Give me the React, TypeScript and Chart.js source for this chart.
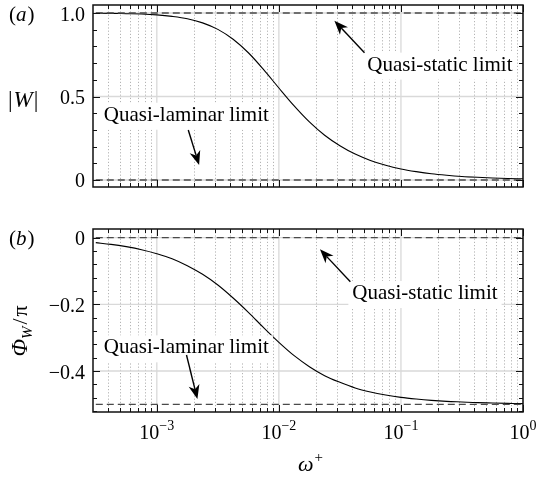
import React, { useEffect, useRef } from "react";
import { Chart, registerables } from "chart.js";

Chart.register(...registerables);

// ---- data ----
const omega = [
  3.162e-4, 4.217e-4, 5.623e-4, 7.499e-4, 1.0e-3, 1.334e-3, 1.778e-3, 2.371e-3,
  3.162e-3, 4.217e-3, 5.623e-3, 7.499e-3, 1.0e-2, 1.334e-2, 1.778e-2, 2.371e-2,
  3.162e-2, 4.217e-2, 5.623e-2, 7.499e-2, 0.1, 0.1334, 0.1778, 0.2371, 0.3162,
  0.4217, 0.5623, 0.7499, 1.0,
];
const magnitudeW = [
  0.999, 0.998, 0.996, 0.994, 0.989, 0.98, 0.966, 0.941, 0.902, 0.843, 0.762,
  0.661, 0.551, 0.444, 0.348, 0.268, 0.205, 0.155, 0.117, 0.088, 0.066, 0.05,
  0.037, 0.028, 0.021, 0.016, 0.012, 0.009, 0.007,
];
const phaseW = [
  -0.015, -0.02, -0.027, -0.036, -0.048, -0.063, -0.084, -0.11, -0.142, -0.181,
  -0.224, -0.27, -0.314, -0.354, -0.387, -0.414, -0.434, -0.451, -0.463, -0.472,
  -0.479, -0.484, -0.488, -0.491, -0.493, -0.495, -0.496, -0.497, -0.498,
];

const xRange = [3.162e-4, 1];
const xDecades = [1e-3, 1e-2, 1e-1, 1];
const xDecadeExp = ["\u22123", "\u22122", "\u22121", "0"];

const topYRange = [-0.042, 1.048];
const topYTicks = [0, 0.5, 1.0];
const topYLabels = ["0", "0.5", "1.0"];
const topYMinorStep = 0.1;
const topLimits = [1, 0];

const botYRange = [-0.523, 0.026];
const botYTicks = [0, -0.2, -0.4];
const botYLabels = ["0", "\u22120.2", "\u22120.4"];
const botYMinorStep = 0.04;
const botLimits = [0, -0.5];

type Note = { text: string; at: [number, number]; tail: [number, number]; tip: [number, number] };
const topNotes: Note[] = [
  { text: "Quasi-static limit", at: [0.053, 0.655], tail: [0.0503, 0.762], tip: [0.0285, 0.954] },
  { text: "Quasi-laminar limit", at: [3.68e-4, 0.355], tail: [1.81e-3, 0.299], tip: [2.22e-3, 0.09] },
];
const botNotes: Note[] = [
  { text: "Quasi-static limit", at: [0.04, -0.184], tail: [0.0385, -0.132], tip: [0.0217, -0.035] },
  { text: "Quasi-laminar limit", at: [3.68e-4, -0.347], tail: [1.75e-3, -0.352], tip: [2.15e-3, -0.484] },
];

const FONT = '"Liberation Serif", "DejaVu Serif", serif';
const W = 538;

type Spec = {
  values: number[];
  yRange: number[];
  yTicks: number[];
  yLabels: string[];
  yMinorStep: number;
  limits: number[];
  notes: Note[];
  tag: string;
  kind: "mag" | "phase";
  height: number;
  padding: { left: number; right: number; top: number; bottom: number };
};

function minorXValues(): number[] {
  const out: number[] = [];
  for (let e = -4; e <= -1; e++) {
    for (let m = 2; m <= 9; m++) {
      const v = m * Math.pow(10, e);
      if (v >= xRange[0] && v <= xRange[1]) out.push(v);
    }
  }
  return out;
}

function minorYValues(range: number[], step: number): number[] {
  const out: number[] = [];
  const start = Math.ceil(range[0] / step - 1e-9);
  const end = Math.floor(range[1] / step + 1e-9);
  for (let k = start; k <= end; k++) out.push(+(k * step).toFixed(6));
  return out;
}

function drawArrow(ctx: CanvasRenderingContext2D, x0: number, y0: number, x1: number, y1: number) {
  const dx = x1 - x0, dy = y1 - y0;
  const len = Math.hypot(dx, dy);
  const ux = dx / len, uy = dy / len;
  const px = -uy, py = ux;
  const L = 14, HW = 5.5, N = 4;
  const bx = x1 - ux * L, by = y1 - uy * L;
  const nx = x1 - ux * (L - N), ny = y1 - uy * (L - N);
  ctx.strokeStyle = "#000";
  ctx.fillStyle = "#000";
  ctx.lineWidth = 1.4;
  ctx.setLineDash([]);
  ctx.beginPath();
  ctx.moveTo(x0, y0);
  ctx.lineTo(nx, ny);
  ctx.stroke();
  ctx.beginPath();
  ctx.moveTo(x1, y1);
  ctx.lineTo(bx + px * HW, by + py * HW);
  ctx.lineTo(nx, ny);
  ctx.lineTo(bx - px * HW, by - py * HW);
  ctx.closePath();
  ctx.fill();
}

function makePlugin(spec: Spec) {
  const minorX = minorXValues();
  const minorY = minorYValues(spec.yRange, spec.yMinorStep);
  return {
    id: "panelDecor",
    beforeDatasetsDraw(chart: any) {
      const { ctx, chartArea: a, scales } = chart;
      const x = scales.x, y = scales.y;
      ctx.save();
      // minor dotted verticals
      ctx.strokeStyle = "#b4b4b4";
      ctx.lineWidth = 1;
      ctx.setLineDash([1.2, 2]);
      for (const v of minorX) {
        const px = Math.round(x.getPixelForValue(v)) + 0.5;
        ctx.beginPath();
        ctx.moveTo(px, a.top);
        ctx.lineTo(px, a.bottom);
        ctx.stroke();
      }
      ctx.setLineDash([]);
      ctx.strokeStyle = "#d9d9d9";
      ctx.lineWidth = 1.3;
      for (const v of xDecades) {
        const px = x.getPixelForValue(v);
        ctx.beginPath();
        ctx.moveTo(px, a.top);
        ctx.lineTo(px, a.bottom);
        ctx.stroke();
      }
      for (const v of spec.yTicks) {
        const py = y.getPixelForValue(v);
        ctx.beginPath();
        ctx.moveTo(a.left, py);
        ctx.lineTo(a.right, py);
        ctx.stroke();
      }
      ctx.restore();
    },
    afterDatasetsDraw(chart: any) {
      const { ctx, chartArea: a, scales } = chart;
      const x = scales.x, y = scales.y;
      ctx.save();
      // annotations
      ctx.font = `21px ${FONT}`;
      ctx.textBaseline = "alphabetic";
      ctx.textAlign = "left";
      for (const n of spec.notes) {
        const tx = x.getPixelForValue(n.at[0]);
        const ty = y.getPixelForValue(n.at[1]);
        const w = ctx.measureText(n.text).width;
        ctx.fillStyle = "#fff";
        ctx.fillRect(tx - 4, ty - 18, w + 8, 27);
        ctx.fillStyle = "#000";
        ctx.fillText(n.text, tx, ty);
        drawArrow(
          ctx,
          x.getPixelForValue(n.tail[0]), y.getPixelForValue(n.tail[1]),
          x.getPixelForValue(n.tip[0]), y.getPixelForValue(n.tip[1])
        );
      }
      // inward ticks
      ctx.strokeStyle = "#111";
      ctx.lineWidth = 1;
      const tick = (x0: number, y0: number, x1: number, y1: number) => {
        ctx.beginPath();
        ctx.moveTo(x0, y0);
        ctx.lineTo(x1, y1);
        ctx.stroke();
      };
      for (const v of minorX) {
        const px = Math.round(x.getPixelForValue(v)) + 0.5;
        tick(px, a.bottom, px, a.bottom - 4);
        tick(px, a.top, px, a.top + 4);
      }
      for (const v of xDecades) {
        const px = Math.round(x.getPixelForValue(v)) + 0.5;
        tick(px, a.bottom, px, a.bottom - 7);
        tick(px, a.top, px, a.top + 7);
      }
      for (const v of minorY) {
        const py = Math.round(y.getPixelForValue(v)) + 0.5;
        tick(a.left, py, a.left + 4, py);
        tick(a.right, py, a.right - 4, py);
      }
      for (const v of spec.yTicks) {
        const py = Math.round(y.getPixelForValue(v)) + 0.5;
        tick(a.left, py, a.left + 7, py);
        tick(a.right, py, a.right - 7, py);
      }
      // frame
      ctx.lineWidth = 1.5;
      ctx.strokeStyle = "#111";
      ctx.strokeRect(a.left, a.top, a.right - a.left, a.bottom - a.top);
      ctx.restore();
    },
    afterDraw(chart: any) {
      const { ctx, chartArea: a, scales } = chart;
      const x = scales.x, y = scales.y;
      ctx.save();
      ctx.fillStyle = "#000";
      ctx.textBaseline = "alphabetic";
      // y tick labels
      ctx.font = `20px ${FONT}`;
      ctx.textAlign = "right";
      spec.yTicks.forEach((v, i) => {
        ctx.fillText(spec.yLabels[i], a.left - 8, y.getPixelForValue(v) + 7.5);
      });
      // panel tag
      const firstTickY = y.getPixelForValue(spec.yTicks[spec.yTicks.length - 1 - (spec.kind === "mag" ? 0 : 2)]) + 7.5;
      ctx.textAlign = "left";
      ctx.font = `21px ${FONT}`;
      const open = "(";
      ctx.fillText(open, 9, firstTickY);
      let cx = 9 + ctx.measureText(open).width;
      ctx.font = `italic 21px ${FONT}`;
      ctx.fillText(spec.tag, cx, firstTickY);
      cx += ctx.measureText(spec.tag).width + 1;
      ctx.font = `21px ${FONT}`;
      ctx.fillText(")", cx, firstTickY);

      if (spec.kind === "mag") {
        // |W|
        const midY = (a.top + a.bottom) / 2 + 11;
        ctx.font = `23px ${FONT}`;
        let lx = 8;
        ctx.fillText("|", lx, midY);
        lx += ctx.measureText("|").width + 1;
        ctx.font = `italic 23px ${FONT}`;
        ctx.fillText("W", lx, midY);
        lx += ctx.measureText("W").width + 1;
        ctx.font = `23px ${FONT}`;
        ctx.fillText("|", lx, midY);
      } else {
        // Φ_W / π, rotated
        ctx.save();
        ctx.translate(27, (a.top + a.bottom) / 2 + 36);
        ctx.rotate(-Math.PI / 2);
        let lx = 0;
        ctx.font = `italic 23px ${FONT}`;
        ctx.fillText("\u03A6", lx, 0);
        lx += ctx.measureText("\u03A6").width;
        ctx.font = `italic 15px ${FONT}`;
        ctx.fillText("W", lx, 5);
        lx += ctx.measureText("W").width + 2;
        ctx.font = `22px ${FONT}`;
        ctx.fillText("/", lx, 0);
        lx += ctx.measureText("/").width + 2;
        ctx.fillText("\u03C0", lx, 0);
        ctx.restore();

        // x tick labels 10^k
        xDecades.forEach((v, i) => {
          const px = x.getPixelForValue(v);
          ctx.font = `20px ${FONT}`;
          const wb = ctx.measureText("10").width;
          ctx.font = `14px ${FONT}`;
          const we = ctx.measureText(xDecadeExp[i]).width;
          const left = px - (wb + we) / 2;
          const base = a.bottom + 27;
          ctx.textAlign = "left";
          ctx.font = `20px ${FONT}`;
          ctx.fillText("10", left, base);
          ctx.font = `14px ${FONT}`;
          ctx.fillText(xDecadeExp[i], left + wb, base - 9);
        });

        // x axis title ω+
        ctx.font = `italic 22px ${FONT}`;
        const ww = ctx.measureText("\u03C9").width;
        ctx.font = `15px ${FONT}`;
        const wp = ctx.measureText("+").width;
        const cxm = (a.left + a.right) / 2 + 2;
        const l0 = cxm - (ww + wp) / 2;
        ctx.font = `italic 22px ${FONT}`;
        ctx.fillText("\u03C9", l0, a.bottom + 59);
        ctx.font = `15px ${FONT}`;
        ctx.fillText("+", l0 + ww + 1, a.bottom + 50);
      }
      ctx.restore();
    },
  };
}

function Panel({ spec, top }: { spec: Spec; top: number }) {
  const ref = useRef<HTMLCanvasElement>(null);
  useEffect(() => {
    const curve = omega.map((o, i) => ({ x: o, y: spec.values[i] }));
    const limitSets = spec.limits.map((l) => ({
      data: [
        { x: xRange[0], y: l },
        { x: xRange[1], y: l },
      ],
      borderColor: "#4a4a4a",
      borderWidth: 1.4,
      borderDash: [7, 4],
      pointRadius: 0,
      fill: false,
    }));
    const chart = new Chart(ref.current as HTMLCanvasElement, {
      type: "line",
      data: {
        datasets: [
          ...limitSets,
          {
            data: curve,
            borderColor: "#000",
            borderWidth: 1.1,
            pointRadius: 0,
            fill: false,
            cubicInterpolationMode: "monotone",
          },
        ] as any,
      },
      options: {
        responsive: false,
        animation: false,
        devicePixelRatio: 1,
        events: [],
        layout: { padding: spec.padding },
        plugins: { legend: { display: false }, tooltip: { enabled: false } },
        scales: {
          x: { type: "logarithmic", min: xRange[0], max: xRange[1], display: false },
          y: { type: "linear", min: spec.yRange[0], max: spec.yRange[1], display: false },
        },
      } as any,
      plugins: [makePlugin(spec) as any],
    });
    return () => chart.destroy();
  }, [spec]);
  return (
    <canvas
      ref={ref}
      width={W}
      height={spec.height}
      style={{ position: "absolute", left: 0, top, width: W, height: spec.height, display: "block" }}
    />
  );
}

const topSpec: Spec = {
  values: magnitudeW,
  yRange: topYRange,
  yTicks: topYTicks,
  yLabels: topYLabels,
  yMinorStep: topYMinorStep,
  limits: topLimits,
  notes: topNotes,
  tag: "a",
  kind: "mag",
  height: 200,
  padding: { left: 93, right: 15, top: 5, bottom: 13 },
};

const botSpec: Spec = {
  values: phaseW,
  yRange: botYRange,
  yTicks: botYTicks,
  yLabels: botYLabels,
  yMinorStep: botYMinorStep,
  limits: botLimits,
  notes: botNotes,
  tag: "b",
  kind: "phase",
  height: 277,
  padding: { left: 93, right: 15, top: 29, bottom: 65 },
};

export default function App() {
  return (
    <div style={{ position: "absolute", left: 0, top: 0, width: W, height: 477, background: "#fff" }}>
      <Panel spec={topSpec} top={0} />
      <Panel spec={botSpec} top={200} />
    </div>
  );
}
